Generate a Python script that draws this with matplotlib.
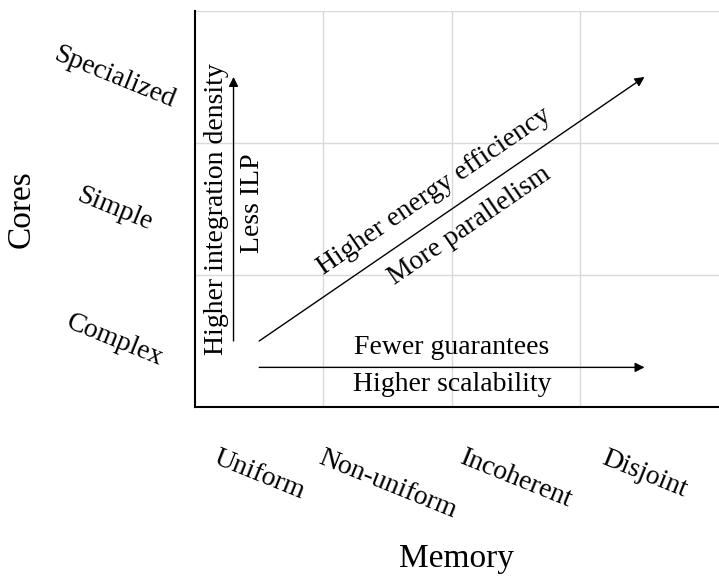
import numpy as np
import matplotlib.pyplot as plt

plt.rcParams['font.family'] = ['Liberation Serif', 'DejaVu Serif']

# categories
memory_labels = ['Uniform', 'Non-uniform', 'Incoherent', 'Disjoint']
core_labels = ['Complex', 'Simple', 'Specialized']

# arrows (start, end) in grid units
arrow_h = ((0.5, 0.3), (3.5, 0.3))
arrow_v = ((0.3, 0.5), (0.3, 2.5))
arrow_d = ((0.5, 0.5), (3.5, 2.5))

fig = plt.figure(figsize=(7.19, 5.80), dpi=100)
ax = fig.add_axes([0.2712, 0.2983, 0.7288, 0.6828])

ax.set_xlim(0, 4.08)
ax.set_ylim(0, 3)

fs = 20

# grid at cell borders, labels at cell centres
ax.set_xticks(np.arange(1, 4))
ax.set_yticks(np.arange(1, 3))
ax.set_xticklabels([])
ax.set_yticklabels([])
ax.set_xticks(np.arange(len(memory_labels)) + 0.5, minor=True)
ax.set_yticks(np.arange(len(core_labels)) + 0.5, minor=True)
ax.set_xticklabels(memory_labels, minor=True, rotation=-22, ha='center', fontsize=fs)
ax.set_yticklabels(core_labels, minor=True, rotation=-22, ha='center', va='center', fontsize=fs)
ax.tick_params(which='both', length=0)
ax.tick_params(axis='x', which='minor', pad=28)
ax.tick_params(axis='y', which='minor', pad=58)
ax.grid(True, which='major', color='#d9d9d9', lw=1)
# top gridline
ax.axhline(3, color='#d9d9d9', lw=1)

for s in ['top', 'right']:
    ax.spines[s].set_visible(False)
for s in ['left', 'bottom']:
    ax.spines[s].set_linewidth(1.5)

ax.set_xlabel('Memory', fontsize=24)
ax.set_ylabel('Cores', fontsize=24)
ax.xaxis.set_label_coords(0.5, -0.345)
ax.yaxis.set_label_coords(-0.303, 0.5)

aprops = dict(arrowstyle='-|>', color='black', lw=1, mutation_scale=14,
              shrinkA=0, shrinkB=0)
for (x0, y0), (x1, y1) in [arrow_h, arrow_v, arrow_d]:
    ax.annotate('', xy=(x1, y1), xytext=(x0, y0), arrowprops=aprops)

# horizontal arrow labels
hx = (arrow_h[0][0] + arrow_h[1][0]) / 2
ax.annotate('Fewer guarantees', xy=(hx, arrow_h[0][1]), xytext=(0, 14.5),
            textcoords='offset points', ha='center', va='center', fontsize=fs)
ax.annotate('Higher scalability', xy=(hx, arrow_h[0][1]), xytext=(0, -12.5),
            textcoords='offset points', ha='center', va='center', fontsize=fs)

# vertical arrow labels
vy = (arrow_v[0][1] + arrow_v[1][1]) / 2
ax.annotate('Higher integration density', xy=(arrow_v[0][0], vy), xytext=(-12.5, 0),
            textcoords='offset points', ha='center', va='center', rotation=90, fontsize=fs)
ax.annotate('Less ILP', xy=(arrow_v[0][0], vy), xytext=(14, 4),
            textcoords='offset points', ha='center', va='center', rotation=90, fontsize=fs)

# diagonal arrow labels
p0 = ax.transData.transform(arrow_d[0])
p1 = ax.transData.transform(arrow_d[1])
ang = np.arctan2(p1[1] - p0[1], p1[0] - p0[0])
deg = np.degrees(ang)
mid = ((arrow_d[0][0] + arrow_d[1][0]) / 2, (arrow_d[0][1] + arrow_d[1][1]) / 2)
off = 15
nx, ny = -np.sin(ang) * off, np.cos(ang) * off
ax.annotate('Higher energy efficiency', xy=mid, xytext=(nx - 4, ny),
            textcoords='offset points', ha='center', va='center',
            rotation=deg, rotation_mode='anchor', fontsize=fs)
ax.annotate('More parallelism', xy=mid, xytext=(-nx + 4, -ny),
            textcoords='offset points', ha='center', va='center',
            rotation=deg, rotation_mode='anchor', fontsize=fs)

fig.savefig('out.png', dpi=100)
